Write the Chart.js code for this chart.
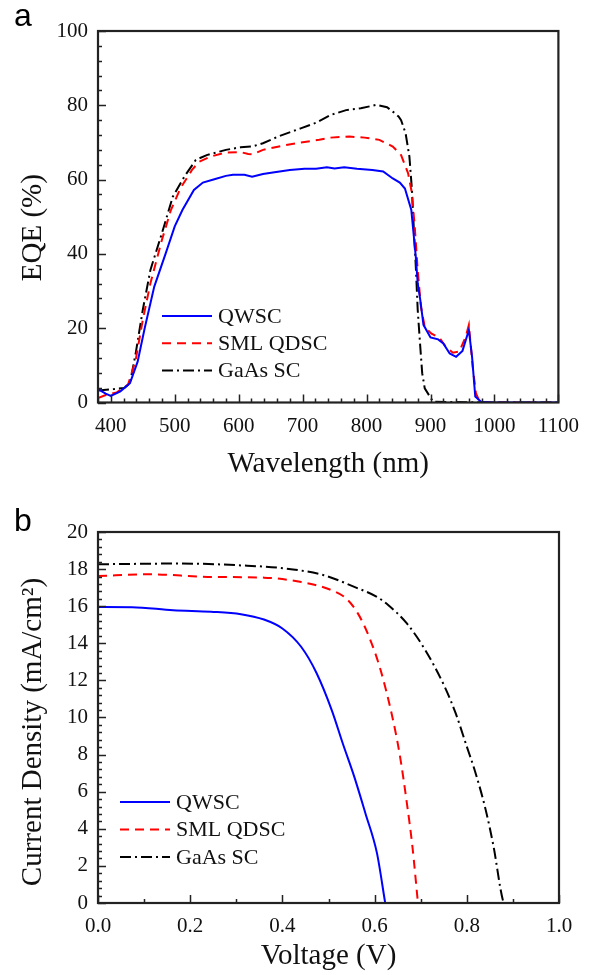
<!DOCTYPE html>
<html>
<head>
<meta charset="utf-8">
<script src="https://cdn.jsdelivr.net/npm/chart.js@4"></script>
<style>
  body { margin: 0; background: #fff; }
  .wrap { position: relative; width: 590px; height: 975px; overflow: hidden; }
  canvas { position: absolute; left: 0; }
  #chartA { top: 0; }
  #chartB { top: 487px; }
  .tag { position: absolute; left: 14px; font: 32px "Liberation Sans", Arial, sans-serif; color: #000; }
</style>
</head>
<body>
<div class="wrap">
  <canvas id="chartA" width="590" height="487"></canvas>
  <canvas id="chartB" width="590" height="488"></canvas>
  <div class="tag" style="top:-3px">a</div>
  <div class="tag" style="top:502px">b</div>
</div>
<script>
// panel a: EQE spectra
var qwscWl  = [380, 392, 400, 415, 430, 442, 453, 468, 486, 500, 512, 530, 544, 562, 580, 591, 609, 621, 638, 656, 680, 703, 721, 738, 750, 765, 785, 809, 826, 841, 852, 860, 870, 873, 877, 880, 884, 889, 900, 912, 920, 930, 940, 950, 960, 965, 970, 979, 1000, 1100];
var qwscEqe = [3.6, 2.4, 1.8, 3.0, 5.2, 11, 20, 31.2, 40.2, 47.4, 51.8, 57.2, 59.2, 60.1, 61.0, 61.3, 61.3, 60.8, 61.5, 62.0, 62.6, 62.9, 62.9, 63.3, 63.0, 63.3, 62.9, 62.6, 62.2, 60.3, 59.2, 57.6, 51.8, 46.4, 39.2, 32.1, 27.6, 20.9, 17.5, 17.0, 15.9, 13.2, 12.3, 13.9, 19.5, 12.3, 1.6, 0.2, 0, 0];

var smlWl  = [380, 395, 409, 427, 439, 450, 462, 480, 494, 509, 527, 538, 556, 580, 603, 615, 622, 638, 668, 697, 726, 744, 773, 797, 820, 841, 854, 865, 870, 875, 880, 885, 891, 901, 914, 924, 935, 945, 955, 960, 966, 971, 977, 1000, 1100];
var smlEqe = [1.2, 2.2, 2.7, 4.8, 11.5, 22.2, 32.1, 43.8, 51.8, 57.7, 62.6, 64.8, 66.2, 67.3, 67.4, 66.9, 66.8, 68.0, 69.1, 70.0, 70.7, 71.3, 71.6, 71.3, 70.7, 68.9, 66.6, 61.7, 57.2, 48.2, 35.7, 25.8, 20.4, 18.6, 17.4, 15.0, 13.4, 13.7, 17.7, 20.9, 9.6, 2.5, 0.2, 0, 0];

var gaasWl  = [380, 404, 421, 430, 439, 450, 462, 480, 497, 515, 533, 550, 580, 603, 621, 638, 662, 697, 721, 744, 768, 791, 815, 832, 841, 850, 854, 861, 867, 871, 874, 877, 880, 884, 887, 891, 899, 904, 1000, 1100];
var gaasEqe = [3.2, 3.6, 3.9, 5.2, 13.3, 24.9, 35.7, 45.6, 55.4, 60.8, 65.3, 66.6, 68.0, 68.7, 68.9, 69.8, 71.6, 73.8, 75.3, 77.4, 78.7, 79.2, 80.1, 79.5, 78.3, 77.0, 76.0, 72.5, 66.2, 57.2, 46.4, 36.6, 24.9, 15.0, 7.9, 3.8, 1.6, 0.2, 0, 0];

// panel b: J-V curves
var qwscV = [0, 0.074, 0.163, 0.245, 0.31, 0.36, 0.40, 0.441, 0.474, 0.507, 0.531, 0.556, 0.58, 0.605, 0.623];
var qwscJ = [15.96, 15.95, 15.78, 15.70, 15.57, 15.28, 14.80, 13.8, 12.4, 10.4, 8.6, 6.8, 4.84, 2.7, 0];

var smlV = [0, 0.114, 0.237, 0.36, 0.441, 0.507, 0.539, 0.564, 0.588, 0.613, 0.637, 0.654, 0.67, 0.682, 0.694];
var smlJ = [17.63, 17.72, 17.58, 17.54, 17.3, 16.86, 16.4, 15.6, 14.35, 12.56, 10.2, 8.07, 5.38, 3.05, 0];

var gaasV = [0, 0.18, 0.31, 0.408, 0.49, 0.556, 0.605, 0.63, 0.67, 0.71, 0.752, 0.776, 0.80, 0.817, 0.841, 0.858, 0.878, 0.882];
var gaasJ = [18.26, 18.3, 18.2, 18.03, 17.67, 17.04, 16.5, 16.05, 15.07, 13.63, 11.66, 10.22, 8.43, 7.17, 5.02, 3.05, 0.18, 0];

var seriesNames = ['QWSC', 'SML QDSC', 'GaAs SC'];
var xTicksA = [400, 500, 600, 700, 800, 900, 1000, 1100];
var yTicksA = [0, 20, 40, 60, 80, 100];
var xTicksB = [0, 0.2, 0.4, 0.6, 0.8, 1.0];
var yTicksB = [0, 2, 4, 6, 8, 10, 12, 14, 16, 18, 20];

var serif = '"Liberation Serif", "Times New Roman", serif';
var nb = '\u00a0';

function pts(xs, ys) {
    return xs.map(function (x, i) { return { x: x, y: ys[i] }; });
}

function lines(sets, smooth) {
    var styles = [
        { borderColor: '#0000ff', borderDash: [] },
        { borderColor: '#ff0000', borderDash: [9, 6] },
        { borderColor: '#000000', borderDash: [11, 4, 2, 4] }
    ];
    return sets.map(function (s, i) {
        return {
            label: seriesNames[i],
            data: s,
            borderColor: styles[i].borderColor,
            borderDash: styles[i].borderDash,
            borderWidth: 2,
            pointRadius: 0,
            fill: false,
            tension: smooth ? 0.4 : 0,
            cubicInterpolationMode: smooth ? 'monotone' : 'default'
        };
    });
}

// frame, inward ticks (major + minor) and an in-plot legend
var framePlugin = {
    id: 'frame',
    afterDatasetsDraw: function (chart, args, opts) {
        var ctx = chart.ctx, a = chart.chartArea;
        var xs = chart.scales.x, ys = chart.scales.y;
        ctx.save();
        ctx.strokeStyle = '#222';
        ctx.lineWidth = 1.5;
        ctx.beginPath();
        for (var v = xs.min; v <= xs.max + 1e-9; v += opts.xMinor) {
            var px = Math.round(xs.getPixelForValue(v)) + 0.5;
            var major = xs.ticks.some(function (t) { return Math.abs(t.value - v) < 1e-6; });
            ctx.moveTo(px, a.bottom);
            ctx.lineTo(px, a.bottom - (major ? 8 : 4));
        }
        for (var w = ys.min; w <= ys.max + 1e-9; w += opts.yMinor) {
            var py = Math.round(ys.getPixelForValue(w)) + 0.5;
            var majorY = ys.ticks.some(function (t) { return Math.abs(t.value - w) < 1e-6; });
            ctx.moveTo(a.left, py);
            ctx.lineTo(a.left + (majorY ? 8 : 4), py);
        }
        ctx.stroke();
        ctx.lineWidth = 2.2;
        ctx.strokeRect(a.left, a.top, a.right - a.left, a.bottom - a.top);

        // legend
        var L = opts.legend;
        ctx.font = '22px ' + serif;
        ctx.textBaseline = 'middle';
        ctx.fillStyle = '#111';
        chart.data.datasets.forEach(function (ds, i) {
            var y = L.y + i * L.gap;
            ctx.beginPath();
            ctx.strokeStyle = ds.borderColor;
            ctx.lineWidth = 2;
            ctx.setLineDash(ds.borderDash);
            ctx.moveTo(L.x, y);
            ctx.lineTo(L.x + L.len, y);
            ctx.stroke();
            ctx.setLineDash([]);
            ctx.fillText(ds.label, L.x + L.len + 6, y + 1);
        });
        ctx.restore();
    }
};

function axes(cfg) {
    return {
        x: {
            type: 'linear',
            min: cfg.xMin, max: cfg.xMax,
            afterBuildTicks: function (s) { s.ticks = cfg.xTicks.map(function (v) { return { value: v }; }); },
            afterFit: function (s) { s.height = cfg.xHeight; },
            grid: { display: false, drawTicks: false },
            border: { display: false },
            ticks: {
                color: '#111', padding: 11, maxRotation: 0, autoSkip: false,
                font: { family: serif, size: 21 },
                callback: cfg.xFmt
            },
            title: {
                display: true, text: cfg.xTitle, color: '#111',
                font: { family: serif, size: 29 }, padding: { top: 0, bottom: cfg.xTitlePad }
            }
        },
        y: {
            type: 'linear',
            min: cfg.yMin, max: cfg.yMax,
            afterBuildTicks: function (s) { s.ticks = cfg.yTicks.map(function (v) { return { value: v }; }); },
            afterFit: function (s) { s.width = 98; },
            grid: { display: false, drawTicks: false },
            border: { display: false },
            ticks: {
                color: '#111', padding: 10, autoSkip: false,
                font: { family: serif, size: 21 }
            },
            title: {
                display: true, text: cfg.yTitle, color: '#111',
                font: { family: serif, size: 29 }, padding: { top: 16, bottom: 0 }
            }
        }
    };
}

new Chart(document.getElementById('chartA'), {
    type: 'line',
    data: {
        datasets: lines([pts(qwscWl, qwscEqe), pts(smlWl, smlEqe), pts(gaasWl, gaasEqe)], false)
    },
    options: {
        responsive: false,
        animation: false,
        layout: { padding: { left: 0, top: 31, right: 31, bottom: 0 } },
        plugins: {
            legend: { display: false },
            tooltip: { enabled: false },
            frame: { xMinor: 20, yMinor: 4, legend: { x: 162, y: 316, gap: 27.3, len: 50 } }
        },
        scales: axes({
            xMin: 380, xMax: 1100, xTicks: xTicksA, xHeight: 84.5, xTitlePad: 5,
            yMin: 0, yMax: 100, yTicks: yTicksA,
            xTitle: 'Wavelength (nm)', yTitle: 'EQE (%)' + nb + nb + nb,
            xFmt: function (v) { return v; }
        })
    },
    plugins: [framePlugin]
});

new Chart(document.getElementById('chartB'), {
    type: 'line',
    data: {
        datasets: lines([pts(qwscV, qwscJ), pts(smlV, smlJ), pts(gaasV, gaasJ)], true)
    },
    options: {
        responsive: false,
        animation: false,
        layout: { padding: { left: 0, top: 45, right: 31, bottom: 0 } },
        plugins: {
            legend: { display: false },
            tooltip: { enabled: false },
            frame: { xMinor: 0.1, yMinor: 0.4, legend: { x: 120, y: 315, gap: 27.5, len: 50 } }
        },
        scales: axes({
            xMin: 0, xMax: 1.0, xTicks: xTicksB, xHeight: 72, xTitlePad: 1,
            yMin: 0, yMax: 20, yTicks: yTicksB,
            xTitle: 'Voltage (V)', yTitle: 'Current Density (mA/cm²)' + nb + nb + nb + nb,
            xFmt: function (v) { return v.toFixed(1); }
        })
    },
    plugins: [framePlugin]
});
</script>
</body>
</html>
